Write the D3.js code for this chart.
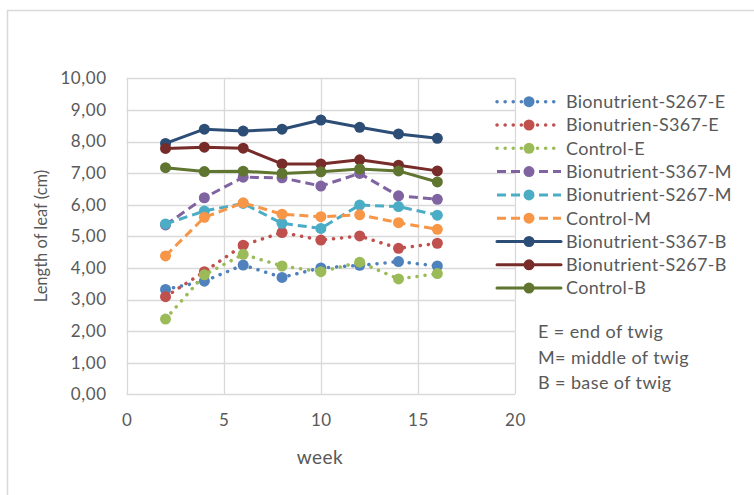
<!DOCTYPE html>
<html><head><meta charset="utf-8">
<script src="https://cdn.jsdelivr.net/npm/d3@7"></script>
<style>
html,body{margin:0;padding:0;background:#fff;}
svg{display:block;}
text{font-family:Lato,"Open Sans",sans-serif;fill:#595959;}
</style></head>
<body>
<svg id="chart" width="754" height="495"></svg>
<script>
const weeks = [2, 4, 6, 8, 10, 12, 14, 16];
const seriesNames = ["Bionutrient-S267-E","Bionutrien-S367-E","Control-E","Bionutrient-S367-M","Bionutrient-S267-M","Control-M","Bionutrient-S367-B","Bionutrient-S267-B","Control-B"];
const s267E = [3.32, 3.58, 4.09, 3.70, 4.00, 4.08, 4.20, 4.06];
const s367E = [3.09, 3.88, 4.72, 5.12, 4.88, 5.01, 4.62, 4.78];
const controlE = [2.38, 3.78, 4.43, 4.06, 3.88, 4.18, 3.65, 3.82];
const s367M = [5.36, 6.22, 6.87, 6.85, 6.59, 6.99, 6.28, 6.17];
const s267M = [5.39, 5.80, 6.04, 5.41, 5.25, 5.99, 5.94, 5.67];
const controlM = [4.38, 5.60, 6.06, 5.70, 5.62, 5.68, 5.43, 5.22];
const s367B = [7.94, 8.39, 8.33, 8.39, 8.68, 8.45, 8.24, 8.10];
const s267B = [7.78, 7.82, 7.79, 7.29, 7.29, 7.42, 7.25, 7.07];
const controlB = [7.17, 7.05, 7.06, 6.99, 7.04, 7.13, 7.07, 6.72];
const seriesValues = [s267E, s367E, controlE, s367M, s267M, controlM, s367B, s267B, controlB];
const colors = ["#4F81BD","#C0504D","#9BBB59","#8064A2","#4BACC6","#F79646","#2C4D75","#772C2A","#5F7530"];
const styles = ["dot","dot","dot","dash","dash","dash","solid","solid","solid"];
const xTicks = [0, 5, 10, 15, 20];
const yTicks = [0,1,2,3,4,5,6,7,8,9,10];
const xTitle = "week";
const yTitle = "Length of leaf (cm)";
const notes = ["E = end of twig", "M= middle of twig", "B = base of twig"];

const svg = d3.select("#chart");
svg.append("rect").attr("x",7.5).attr("y",10.5).attr("width",760).attr("height",500)
  .attr("fill","none").attr("stroke","#d9d9d9").attr("stroke-width",1.5);

const x = d3.scaleLinear().domain([0,20]).range([126.7,515]);
const y = d3.scaleLinear().domain([0,10]).range([394.3,78.3]);
const loc = d3.formatLocale({decimal:",", thousands:".", grouping:[3], currency:["",""]});
const fmt = loc.format(".2f");

const grid = svg.append("g");
grid.selectAll("line.h").data(yTicks).join("line")
  .attr("x1",x(0)).attr("x2",x(20)).attr("y1",d=>Math.round(y(d))+0.5).attr("y2",d=>Math.round(y(d))+0.5)
  .attr("stroke","#d9d9d9").attr("stroke-width",1.3);
grid.selectAll("line.v").data(xTicks).join("line")
  .attr("y1",y(0)).attr("y2",y(10)).attr("x1",d=>Math.round(x(d))+0.5).attr("x2",d=>Math.round(x(d))+0.5)
  .attr("stroke","#d9d9d9").attr("stroke-width",1.3);

const yAxis = d3.axisLeft(y).tickValues(yTicks).tickFormat(fmt).tickSize(0).tickPadding(20);
const gy = svg.append("g").attr("transform",`translate(${x(0)},0)`).call(yAxis);
const xAxis = d3.axisBottom(x).tickValues(xTicks).tickSize(0).tickPadding(20);
const gx = svg.append("g").attr("transform",`translate(0,${y(0)})`).call(xAxis);
[gy,gx].forEach(g=>{
  g.select(".domain").remove();
  g.selectAll("text").attr("font-family","Lato, sans-serif").attr("font-size",17).attr("letter-spacing","0.6px").attr("fill","#595959");
});

svg.append("text").attr("x",320).attr("y",464).attr("text-anchor","middle").attr("font-size",19).attr("letter-spacing","0.5px").text(xTitle);
svg.append("text").attr("transform","translate(47,236) rotate(-90)").attr("text-anchor","middle").attr("font-size",16.5).text(yTitle);

function applyStyle(sel, st){
  if(st==="dot") sel.attr("stroke-width",3.5).attr("stroke-linecap","round").attr("stroke-dasharray","0.1,8");
  else if(st==="dash") sel.attr("stroke-width",3).attr("stroke-linecap","butt").attr("stroke-dasharray","9,5");
  else sel.attr("stroke-width",3).attr("stroke-linecap","round");
}

const line = d3.line().x((d,i)=>x(weeks[i])).y(d=>y(d));
seriesValues.forEach((vals,k)=>{
  const g = svg.append("g");
  const p = g.append("path").datum(vals).attr("d",line).attr("fill","none").attr("stroke",colors[k]).attr("stroke-linejoin","round");
  applyStyle(p, styles[k]);
  g.selectAll("circle").data(vals).join("circle")
    .attr("cx",(d,i)=>x(weeks[i])).attr("cy",d=>y(d)).attr("r",5.5).attr("fill",colors[k]);
});

const lg = svg.append("g");
seriesNames.forEach((name,k)=>{
  const yy = 101.7 + k*23.3;
  const l = lg.append("line").attr("x1",497).attr("x2",561).attr("y1",yy).attr("y2",yy).attr("stroke",colors[k]);
  applyStyle(l, styles[k]);
  lg.append("circle").attr("cx",529).attr("cy",yy).attr("r",5.5).attr("fill",colors[k]);
  lg.append("text").attr("x",566).attr("y",yy).attr("dy","0.35em").attr("font-size",18).attr("letter-spacing","0.3px").text(name);
});

notes.forEach((t,i)=>{
  svg.append("text").attr("x",538).attr("y",[331.7,357.5,383][i]).attr("dy","0.35em").attr("font-size",18).attr("letter-spacing","0.4px").text(t);
});
</script>
</body></html>
